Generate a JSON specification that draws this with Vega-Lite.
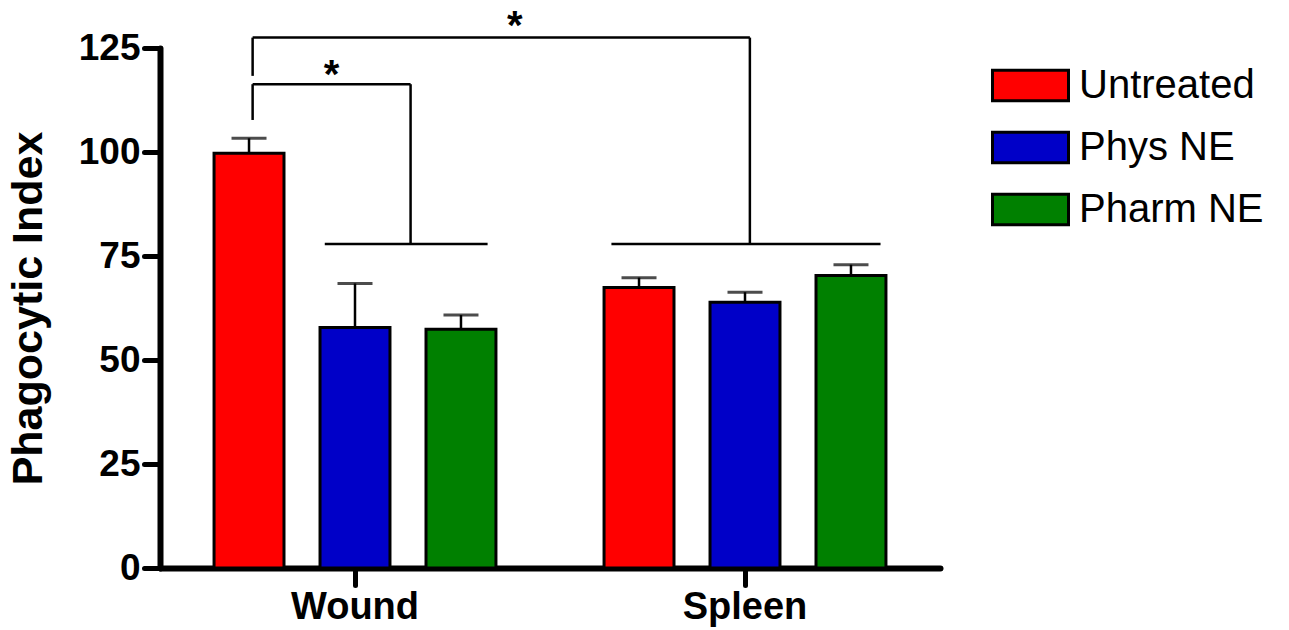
{
  "$schema": "https://vega.github.io/schema/vega-lite/v6.json",
  "width": 780,
  "height": 520,
  "autosize": {"type": "none"},
  "padding": {"left": 160, "top": 48, "right": 349, "bottom": 62},
  "background": "white",
  "config": {"view": {"stroke": null}, "font": "Liberation Sans"},
  "datasets": {
    "bars": [
      {"tissue": "Wound", "treatment": "Untreated", "mean": 99.7, "upper": 103.3},
      {"tissue": "Wound", "treatment": "Phys NE", "mean": 57.8, "upper": 68.4},
      {"tissue": "Wound", "treatment": "Pharm NE", "mean": 57.4, "upper": 60.8},
      {"tissue": "Spleen", "treatment": "Untreated", "mean": 67.4, "upper": 69.8},
      {"tissue": "Spleen", "treatment": "Phys NE", "mean": 63.9, "upper": 66.3},
      {"tissue": "Spleen", "treatment": "Pharm NE", "mean": 70.3, "upper": 72.9}
    ],
    "segments": [
      {"xa": 0.95, "ya": 107.7, "xb": 0.95, "yb": 116.3},
      {"xa": 0.95, "ya": 116.3, "xb": 2.57, "yb": 116.3},
      {"xa": 2.57, "ya": 116.3, "xb": 2.57, "yb": 77.9},
      {"xa": 1.69, "ya": 77.9, "xb": 3.36, "yb": 77.9},
      {"xa": 0.95, "ya": 118.3, "xb": 0.95, "yb": 127.5},
      {"xa": 0.95, "ya": 127.5, "xb": 6.05, "yb": 127.5},
      {"xa": 6.05, "ya": 127.5, "xb": 6.05, "yb": 77.9},
      {"xa": 4.63, "ya": 77.9, "xb": 7.39, "yb": 77.9}
    ],
    "stars": [
      {"xs": 1.76, "ys": 115.5, "label": "*"},
      {"xs": 3.64, "ys": 127.2, "label": "*"}
    ]
  },
  "layer": [
    {
      "data": {"name": "bars"},
      "encoding": {
        "x": {
          "field": "tissue", "type": "nominal", "sort": ["Wound", "Spleen"],
          "scale": {"type": "band", "paddingInner": 0, "paddingOuter": 0},
          "axis": {
            "title": null, "labelAngle": 0, "labelFont": "Liberation Sans", "labelFontSize": 38,
            "labelFontWeight": "bold", "labelColor": "black", "labelPadding": 3,
            "tickSize": 17, "tickWidth": 5, "tickColor": "black", "tickCap": "round",
            "domainColor": "black", "domainWidth": 6, "domainCap": "round", "grid": false
          }
        },
        "xOffset": {
          "field": "treatment", "type": "nominal", "sort": ["Untreated", "Phys NE", "Pharm NE"],
          "scale": {"type": "band", "paddingInner": 0.34, "paddingOuter": 0.51}
        }
      },
      "layer": [
        {
          "mark": {"type": "bar", "stroke": "black", "strokeWidth": 3},
          "encoding": {
            "y": {
              "field": "mean", "type": "quantitative",
              "scale": {"domain": [0, 125], "nice": false},
              "axis": {
                "title": "Phagocytic Index", "values": [0, 25, 50, 75, 100, 125], "grid": false,
                "labelFont": "Liberation Sans", "labelFontSize": 37, "labelFontWeight": "bold",
                "labelColor": "black", "labelPadding": 4, "tickSize": 16, "tickWidth": 5,
                "tickColor": "black", "tickCap": "round", "domainColor": "black", "domainWidth": 6,
                "domainCap": "round", "titleFont": "Liberation Sans", "titleFontSize": 43,
                "titleFontWeight": "bold", "titleColor": "black", "titlePadding": 28
              }
            },
            "color": {
              "field": "treatment", "type": "nominal",
              "scale": {"domain": ["Untreated", "Phys NE", "Pharm NE"], "range": ["#FF0000", "#0000C8", "#008000"]},
              "legend": {
                "orient": "none", "legendX": 850, "legendY": 17, "title": null, "padding": 0,
                "symbolType": "M-2,-0.8H2V0.8H-2Z", "symbolSize": 1444,
                "symbolStrokeColor": "black", "symbolStrokeWidth": 3, "symbolOpacity": 1,
                "labelFont": "Liberation Sans", "labelFontSize": 40, "labelColor": "black",
                "labelOffset": 28, "rowPadding": 19, "labelLimit": 400
              }
            }
          }
        },
        {
          "mark": {"type": "rule", "color": "black", "strokeWidth": 2.5},
          "encoding": {
            "y": {"field": "mean", "type": "quantitative"},
            "y2": {"field": "upper"}
          }
        },
        {
          "mark": {"type": "tick", "color": "black", "thickness": 3, "size": 35, "orient": "horizontal"},
          "encoding": {
            "y": {"field": "upper", "type": "quantitative"}
          }
        }
      ]
    },
    {
      "layer": [
        {
          "data": {"name": "segments"},
          "mark": {"type": "rule", "color": "black", "strokeWidth": 2.5},
          "encoding": {
            "x": {"field": "xa", "type": "quantitative", "scale": {"domain": [0, 8], "nice": false, "zero": false}, "axis": null},
            "x2": {"field": "xb"},
            "y": {"field": "ya", "type": "quantitative"},
            "y2": {"field": "yb"}
          }
        },
        {
          "data": {"name": "stars"},
          "mark": {"type": "text", "font": "Liberation Sans", "fontSize": 40, "fontWeight": "bold", "color": "black", "align": "center", "baseline": "alphabetic"},
          "encoding": {
            "x": {"field": "xs", "type": "quantitative", "axis": null},
            "y": {"field": "ys", "type": "quantitative"},
            "text": {"field": "label"}
          }
        }
      ]
    }
  ],
  "resolve": {"scale": {"x": "independent"}}
}
